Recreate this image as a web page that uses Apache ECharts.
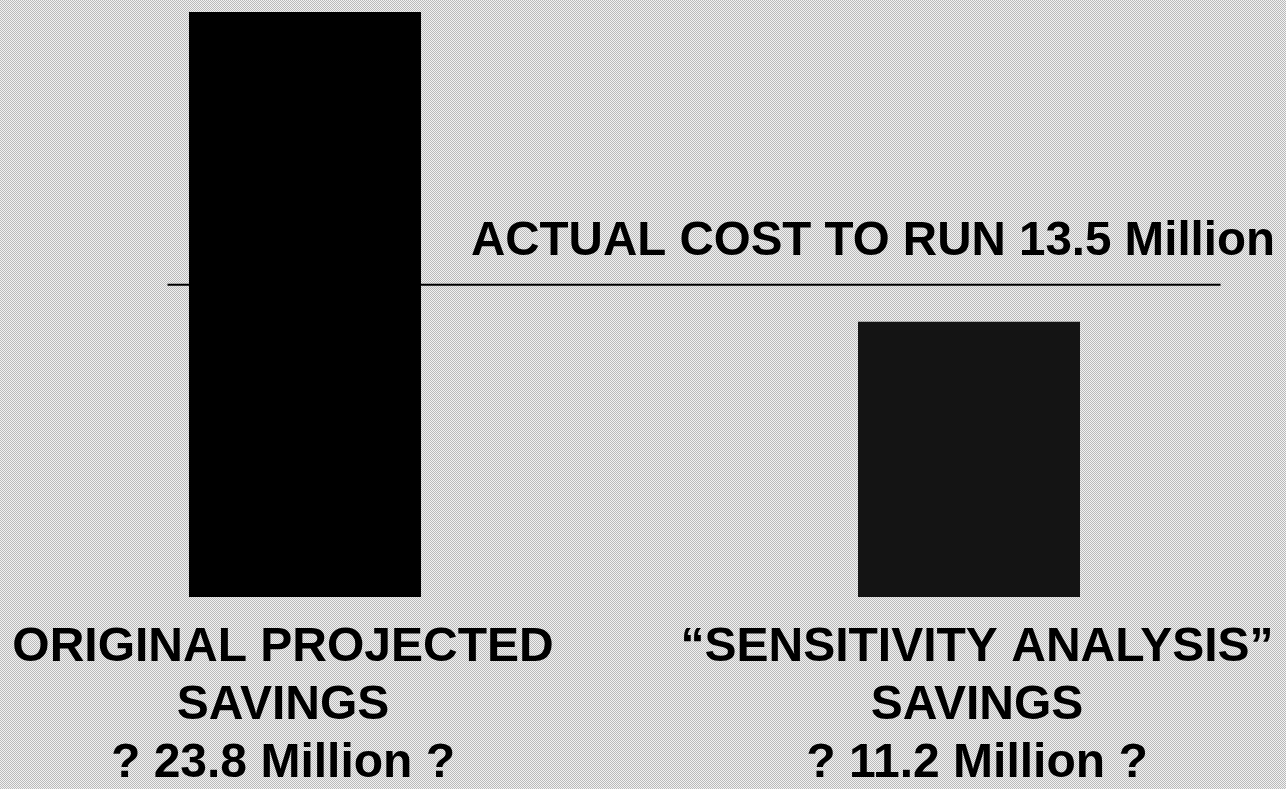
<!DOCTYPE html>
<html>
<head>
<meta charset="utf-8">
<title>Savings vs cost</title>
<script src="https://cdn.jsdelivr.net/npm/echarts@6/dist/echarts.min.js"></script>
<style>
    html, body { margin: 0; padding: 0; }
    #chart { width: 1286px; height: 789px; }
</style>
</head>
<body>
<div id="chart"></div>
<script>
    // data
    let categories = ['ORIGINAL PROJECTED', '\u201CSENSITIVITY ANALYSIS\u201D'];
    let subLabel = 'SAVINGS';
    let savings = [23.8, 11.2];          // million
    let actualCost = 13.5;               // million, as written in the label
    let costLineLevel = 12.7;            // where the line sits against the bar scale
    let costLineSpan = [0.151, 0.938];   // start/end of the line along the plot width

    let fontFamily = "'Liberation Sans', Arial, Helvetica, sans-serif";

    //halftone-ish grey background
    function makePattern() {
        let c = document.createElement('canvas');
        c.width = 2;
        c.height = 2;
        let ctx = c.getContext('2d');
        ctx.fillStyle = '#f2f2f2';
        ctx.fillRect(0, 0, 2, 2);
        ctx.fillStyle = '#bababa';
        ctx.fillRect(0, 0, 1, 1);
        ctx.fillRect(1, 1, 1, 1);
        return c;
    }

    let myChart = echarts.init(document.getElementById('chart'));

    let labelOffsets = [
        [0, 34, 0, 0],
        [0, 0, 0, 16]
    ];
    let xData = categories.map(function (name, i) {
        return {
            value: name,
            textStyle: { padding: labelOffsets[i] }
        };
    });

    let option = {
        backgroundColor: { image: makePattern(), repeat: 'repeat' },
        animation: false,
        title: {
            text: 'ACTUAL COST TO RUN ' + actualCost + ' Million',
            right: 6,
            top: 213,
            textStyle: {
                fontFamily: fontFamily,
                fontWeight: 'bold',
                fontSize: 47.5,
                color: '#000'
            }
        },
        grid: {
            left: -34.5,
            right: -17.5,
            top: 7,
            bottom: 192,
            outerBoundsMode: 'none',
            containLabel: false
        },
        xAxis: [{
            type: 'category',
            data: xData,
            axisLine: { show: false },
            axisTick: { show: false },
            splitLine: { show: false },
            axisLabel: {
                interval: 0,
                margin: 22,
                fontFamily: fontFamily,
                fontWeight: 'bold',
                fontSize: 48,
                lineHeight: 58,
                color: '#000',
                formatter: function (value, index) {
                    return value + '\n' + subLabel + '\n? ' + savings[index] + ' Million ?';
                }
            }
        }, {
            type: 'value',
            min: 0,
            max: 1,
            show: false
        }],
        yAxis: {
            type: 'value',
            min: 0,
            max: 24,
            show: false
        },
        series: [
            {
                name: 'cost',
                type: 'line',
                xAxisIndex: 1,
                symbol: 'none',
                z: 1,
                lineStyle: { color: '#000', width: 2 },
                data: costLineSpan.map(function (x) { return [x, costLineLevel]; })
            },
            {
                name: 'original',
                type: 'bar',
                barWidth: 232,
                barGap: '-100%',
                z: 3,
                itemStyle: { color: '#000' },
                data: [savings[0], '-']
            },
            {
                name: 'sensitivity',
                type: 'bar',
                barWidth: 222,
                barGap: '-100%',
                z: 3,
                itemStyle: { color: '#141414' },
                data: ['-', savings[1]]
            }
        ]
    };
    myChart.setOption(option);
</script>
</body>
</html>
